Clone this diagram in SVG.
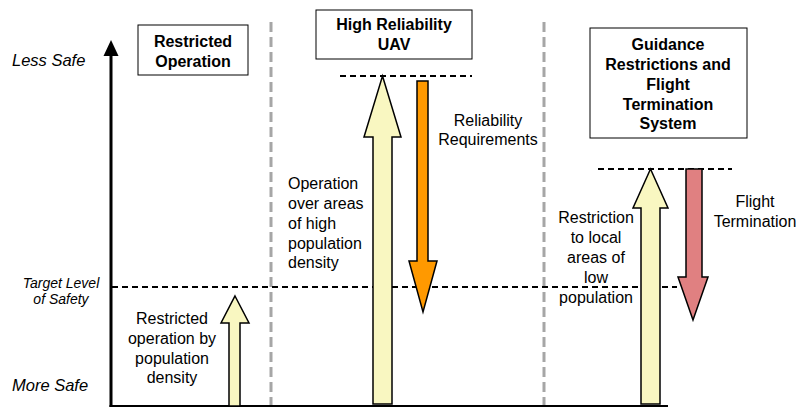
<svg xmlns="http://www.w3.org/2000/svg" width="799" height="408" viewBox="0 0 799 408">
<style>
text{font-family:"Liberation Sans",Arial,sans-serif;fill:#000}
.lbl{font-size:16px}
.bold{font-size:16px;font-weight:bold}
.ital{font-style:italic}
.box{fill:#fff;stroke:#000;stroke-width:1}
.sep{stroke:#a6a6a6;stroke-width:3;stroke-dasharray:10 5;fill:none}
.lvl{stroke:#000;stroke-width:2;stroke-dasharray:6 4;fill:none}
.ya{fill:#f9f7c1;stroke:#000;stroke-width:1.5;stroke-linejoin:miter}
</style>
<rect width="799" height="408" fill="#fff"/>
<g id="separators">
<line class="sep" x1="271" y1="22" x2="271" y2="406"/>
<line class="sep" x1="544" y1="22" x2="544" y2="406"/>
</g>
<g id="axis">
<line x1="111" y1="52" x2="111" y2="407" stroke="#000" stroke-width="3"/>
<polygon points="111,40 118.5,56 103.5,56" fill="#000"/>
<line x1="109.5" y1="406" x2="668" y2="406" stroke="#000" stroke-width="2"/>
<text class="ital" x="12" y="66" font-size="16.5">Less Safe</text>
<text class="ital" x="12" y="391" font-size="16.5">More Safe</text>
<text class="ital" x="61" y="288" font-size="14" text-anchor="middle">Target Level</text>
<text class="ital" x="61" y="304" font-size="14" text-anchor="middle">of Safety</text>
</g>
<g id="levels">
<line class="lvl" x1="112" y1="287" x2="677" y2="287"/>
<line class="lvl" x1="340" y1="76" x2="472" y2="76"/>
<line class="lvl" x1="598" y1="169" x2="732" y2="169"/>
</g>
<g id="restricted-operation">
<rect class="box" x="138" y="25" width="110" height="50"/>
<text class="bold" x="193" y="47" text-anchor="middle">Restricted</text>
<text class="bold" x="193" y="67" text-anchor="middle">Operation</text>
<polygon class="ya" points="235,296 249,323 240,323 240,406 229,406 229,323 221,323"/>
<text class="lbl" x="172" y="324" text-anchor="middle">Restricted</text>
<text class="lbl" x="172" y="344" text-anchor="middle">operation by</text>
<text class="lbl" x="172" y="364" text-anchor="middle">population</text>
<text class="lbl" x="172" y="383" text-anchor="middle">density</text>
</g>
<g id="high-reliability-uav">
<rect class="box" x="316" y="10" width="156" height="49"/>
<text class="bold" x="394" y="30" text-anchor="middle">High Reliability</text>
<text class="bold" x="394" y="50" text-anchor="middle">UAV</text>
<polygon class="ya" points="382.5,76 401,137 392,137 392,404 373,404 373,137 364,137"/>
<polygon points="417,81 428,81 428,261 437,261 423,312 409,261 417,261" fill="#ff9900" stroke="#000" stroke-width="1.5"/>
<text class="lbl" x="288" y="189">Operation</text>
<text class="lbl" x="288" y="209">over areas</text>
<text class="lbl" x="288" y="229">of high</text>
<text class="lbl" x="288" y="249">population</text>
<text class="lbl" x="288" y="268">density</text>
<text class="lbl" x="488" y="126" text-anchor="middle">Reliability</text>
<text class="lbl" x="488" y="145" text-anchor="middle">Requirements</text>
</g>
<g id="guidance-restrictions">
<rect class="box" x="590" y="28" width="157" height="110"/>
<text class="bold" x="668" y="50" text-anchor="middle">Guidance</text>
<text class="bold" x="668" y="70" text-anchor="middle">Restrictions and</text>
<text class="bold" x="668" y="89.5" text-anchor="middle">Flight</text>
<text class="bold" x="668" y="109.5" text-anchor="middle">Termination</text>
<text class="bold" x="668" y="129" text-anchor="middle">System</text>
<polygon class="ya" points="650.5,169 668,208 660,208 660,404 641,404 641,208 633,208"/>
<polygon points="686,169 702,169 702,277 708,277 693,320 678,277 686,277" fill="#e08081" stroke="#000" stroke-width="1.5"/>
<text class="lbl" x="596" y="223" text-anchor="middle">Restriction</text>
<text class="lbl" x="596" y="243" text-anchor="middle">to local</text>
<text class="lbl" x="596" y="263" text-anchor="middle">areas of</text>
<text class="lbl" x="596" y="283" text-anchor="middle">low</text>
<text class="lbl" x="596" y="303" text-anchor="middle">population</text>
<text class="lbl" x="755" y="207" text-anchor="middle">Flight</text>
<text class="lbl" x="755" y="227" text-anchor="middle">Termination</text>
</g>
</svg>
